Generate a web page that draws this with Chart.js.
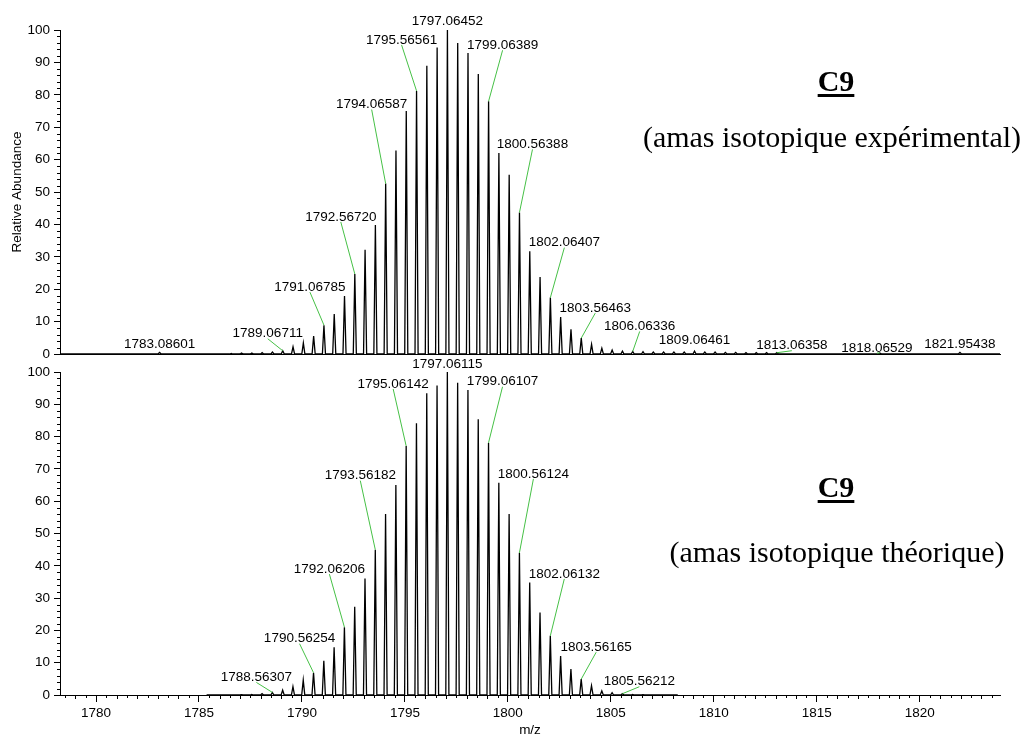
<!DOCTYPE html>
<html lang="fr">
<head>
<meta charset="UTF-8">
<title>C9 - amas isotopique</title>
<script src="https://cdn.jsdelivr.net/npm/chart.js@4/dist/chart.umd.min.js"></script>
<style>
    html, body { margin: 0; padding: 0; background: #ffffff; }
    #quadro { position: relative; width: 1023px; height: 738px; overflow: hidden; }
    #quadro canvas { position: absolute; left: 0; top: 0; }
    .rotulo {
        position: absolute;
        transform: translate(-50%, -50%);
        font-family: "Liberation Serif", "Times New Roman", serif;
        font-size: 30px;
        line-height: 1;
        white-space: nowrap;
        color: #000;
    }
    .composto { font-weight: bold; text-decoration: underline; text-decoration-thickness: 3px; text-underline-offset: 3px; }
</style>
</head>
<body>
<div id="quadro">
    <canvas id="graficoExperimental" width="1023" height="738"></canvas>
    <canvas id="graficoTeorico" width="1023" height="738"></canvas>
    <div class="rotulo composto" style="left:836px; top:81px;">C9</div>
    <div class="rotulo" style="left:832px; top:137px;">(amas isotopique expérimental)</div>
    <div class="rotulo composto" style="left:836px; top:487px;">C9</div>
    <div class="rotulo" style="left:837px; top:552px;">(amas isotopique théorique)</div>
</div>
<script>
/* Limites do eixo m/z (comum aos dois espectros) */
const mzMin = 1778.25;
const mzMax = 1823.9;

/* Espectro experimental: posição m/z dos picos e abundância relativa (%) */
const mzExperimental = [
    1783.08601, 1786.566, 1787.066, 1787.567, 1788.067, 1788.567, 1789.06711, 1789.567,
    1790.068, 1790.568, 1791.06785, 1791.568, 1792.067, 1792.56720, 1793.066, 1793.566,
    1794.06587, 1794.566, 1795.066, 1795.56561, 1796.065, 1796.565, 1797.06452, 1797.564,
    1798.064, 1798.564, 1799.06389, 1799.564, 1800.064, 1800.56388, 1801.064, 1801.564,
    1802.06407, 1802.564, 1803.065, 1803.56463, 1804.065, 1804.564, 1805.064, 1805.564,
    1806.06336, 1806.563, 1807.063, 1807.563, 1808.063, 1808.564, 1809.06461, 1809.565,
    1810.064, 1810.564, 1811.064, 1811.564, 1812.064, 1812.564, 1813.06358, 1818.06529,
    1821.95438
];
const abundanciaExperimental = [
    0.5, 0.2, 0.3, 0.3, 0.4, 0.6, 1.0, 2.2,
    3.4, 5.5, 8.9, 12.3, 17.9, 24.7, 32.2, 39.8,
    52.6, 62.8, 75.0, 81.2, 89.0, 94.6, 100, 96.0,
    92.9, 86.4, 78.0, 62.0, 55.3, 43.7, 31.7, 23.8,
    17.4, 11.4, 7.6, 4.9, 3.0, 1.8, 1.2, 0.9,
    0.8, 0.7, 0.6, 0.6, 0.6, 0.6, 0.9, 0.6,
    0.6, 0.5, 0.5, 0.4, 0.4, 0.4, 0.4, 0.3,
    0.5
];
// Picos anotados no espectro experimental
const rotulosExperimental = [
    "1783.08601", "1789.06711", "1791.06785", "1792.56720", "1794.06587", "1795.56561",
    "1797.06452", "1799.06389", "1800.56388", "1802.06407", "1803.56463", "1806.06336",
    "1809.06461", "1813.06358", "1818.06529", "1821.95438"
];

/* Espectro teórico */
const mzTeorico = [
    1787.063, 1787.563, 1788.063, 1788.56307, 1789.063, 1789.563, 1790.063, 1790.56254,
    1791.062, 1791.562, 1792.06206, 1792.562, 1793.062, 1793.56182, 1794.061, 1794.561,
    1795.06142, 1795.561, 1796.061, 1796.561, 1797.06115, 1797.561, 1798.061, 1798.561,
    1799.06107, 1799.561, 1800.061, 1800.56124, 1801.061, 1801.561, 1802.06132, 1802.562,
    1803.062, 1803.56165, 1804.062, 1804.562, 1805.062, 1805.56212, 1806.062, 1806.562
];
const abundanciaTeorica = [
    0.1, 0.2, 0.4, 0.8, 1.5, 2.6, 4.6, 6.9,
    10.6, 14.8, 21.0, 27.3, 36.1, 45.0, 56.0, 65.0,
    77.1, 84.1, 93.4, 95.8, 100, 96.7, 94.4, 85.4,
    78.1, 65.7, 56.0, 44.0, 34.8, 25.5, 18.3, 12.1,
    8.0, 4.9, 2.9, 1.3, 0.7, 0.4, 0.2, 0.1
];
// Picos anotados no espectro teórico
const rotulosTeorico = [
    "1788.56307", "1790.56254", "1792.06206", "1793.56182", "1795.06142", "1797.06115",
    "1799.06107", "1800.56124", "1802.06132", "1803.56165", "1805.56212"
];

/* Faixa m/z coberta pela linha de base de cada perfil */
const faixaExperimental = [1778.25, 1823.9];
const faixaTeorica = [1785.37, 1808.25];

/* Deslocamento (px) de cada rótulo em relação ao topo do seu pico */
const deslocExperimental = [
    [0, -8], [-15, -17], [-14, -38], [-14, -57], [-14, -79], [-15, -51],
    [0, -9], [14, -56], [13, -68], [14, -55], [14, -30], [7, -25],
    [0, -11], [15, -7], [-3, -5], [0, -8]
];
const deslocTeorico = [
    [-16, -15], [-14, -34], [-15, -58], [-15, -74], [-13, -62], [0, -8],
    [14, -61], [14, -79], [14, -62], [15, -32], [17, -12]
];

// Meia largura (em m/z) usada para desenhar cada pico do perfil
const meiaLargura = 0.075;
const fonteSans = "'Liberation Sans', Arial, Helvetica, sans-serif";

/* Monta o perfil (linha) a partir da lista de picos */
function montarPerfil(mz, abund, faixa) {
    const pontos = [{ x: faixa[0], y: 0 }];
    mz.forEach((m, i) => {
        pontos.push({ x: m - meiaLargura, y: 0 }, { x: m, y: abund[i] }, { x: m + meiaLargura, y: 0 });
    });
    pontos.push({ x: faixa[1], y: 0 });
    return pontos;
}

/* Plugin: marcas secundárias dos eixos, rótulos dos picos e linhas de ligação */
const pluginAnotacoes = {
    id: "anotacoes",
    afterDatasetsDraw(chart, args, opts) {
        const { ctx, chartArea, scales: { x, y } } = chart;
        ctx.save();
        ctx.strokeStyle = "#000";
        ctx.lineWidth = 1;
        ctx.beginPath();
        // Marcas menores do eixo y (a cada 2 %)
        for (let v = 0; v <= 100; v += 2) {
            if (v % 10 === 0) continue;
            const py = Math.round(y.getPixelForValue(v)) + 0.5;
            ctx.moveTo(chartArea.left - 3, py);
            ctx.lineTo(chartArea.left, py);
        }
        // Marcas menores do eixo x (a cada 0,5), só no painel de baixo
        if (opts.marcasX) {
            for (let v = Math.ceil(mzMin * 2) / 2; v <= mzMax; v += 0.5) {
                if (v % 5 === 0) continue;
                const px = Math.round(x.getPixelForValue(v)) + 0.5;
                const comp = Number.isInteger(v) ? 4 : 3;
                ctx.moveTo(px, chartArea.bottom);
                ctx.lineTo(px, chartArea.bottom + comp);
            }
        }
        ctx.stroke();

        // Rótulos dos picos
        ctx.font = "13.5px " + fonteSans;
        ctx.textAlign = "center";
        ctx.textBaseline = "middle";
        opts.rotulos.forEach((texto, i) => {
            const idx = opts.mz.indexOf(parseFloat(texto));
            const px = x.getPixelForValue(opts.mz[idx]);
            const py = y.getPixelForValue(opts.abund[idx]);
            const [dx, dy] = opts.desloc[i];
            const lx = px + dx;
            const ly = py + dy;
            if (dx !== 0) {
                ctx.strokeStyle = "#46c046";
                ctx.beginPath();
                ctx.moveTo(px, py);
                ctx.lineTo(lx, ly + 5);
                ctx.stroke();
            }
            ctx.fillStyle = "#000";
            ctx.fillText(texto, lx, ly);
        });
        ctx.restore();
    }
};

/* Cria um painel do espectro */
function criarGrafico(idCanvas, perfil, anotacoes, painelDeBaixo) {
    const ctx = document.getElementById(idCanvas).getContext("2d");
    return new Chart(ctx, {
        type: "line",
        data: {
            datasets: [{
                data: perfil,
                borderColor: "#000",
                borderWidth: 1.3,
                pointRadius: 0,
                tension: 0,
                fill: false,
                clip: false,
            }],
        },
        options: {
            responsive: false,
            animation: false,
            layout: {
                padding: painelDeBaixo
                    ? { left: 0, right: 23, top: 372, bottom: 0 }
                    : { left: 0, right: 23, top: 30, bottom: 384 },
            },
            plugins: {
                legend: { display: false },
                tooltip: { enabled: false },
                anotacoes: anotacoes,
            },
            scales: {
                x: {
                    type: "linear",
                    min: mzMin,
                    max: mzMax,
                    ticks: {
                        display: painelDeBaixo,
                        stepSize: 5,
                        includeBounds: false,
                        color: "#000",
                        padding: 3,
                        font: { family: fonteSans, size: 13.5 },
                        callback: (v) => String(v),
                    },
                    grid: {
                        display: painelDeBaixo,
                        drawOnChartArea: false,
                        tickLength: 7,
                        color: "#000",
                    },
                    border: { display: true, color: "#000", width: 1 },
                    title: {
                        display: painelDeBaixo,
                        text: "m/z",
                        color: "#000",
                        padding: { top: 0, bottom: 0 },
                        font: { family: fonteSans, size: 13.5 },
                    },
                    afterFit: (s) => { s.height = painelDeBaixo ? 43 : 0; },
                },
                y: {
                    type: "linear",
                    min: 0,
                    max: 100,
                    ticks: {
                        stepSize: 10,
                        color: "#000",
                        padding: 4,
                        font: { family: fonteSans, size: 13.5 },
                    },
                    grid: {
                        drawOnChartArea: false,
                        tickLength: 6,
                        color: "#000",
                    },
                    border: { display: true, color: "#000", width: 1 },
                    title: {
                        display: !painelDeBaixo,
                        text: "Relative Abundance",
                        color: "#000",
                        padding: { top: 9, bottom: 0 },
                        font: { family: fonteSans, size: 13.5 },
                    },
                    afterFit: (s) => { s.width = 60; },
                },
            },
        },
        plugins: [pluginAnotacoes],
    });
}

criarGrafico(
    "graficoExperimental",
    montarPerfil(mzExperimental, abundanciaExperimental, faixaExperimental),
    { mz: mzExperimental, abund: abundanciaExperimental, rotulos: rotulosExperimental, desloc: deslocExperimental, marcasX: false },
    false
);
criarGrafico(
    "graficoTeorico",
    montarPerfil(mzTeorico, abundanciaTeorica, faixaTeorica),
    { mz: mzTeorico, abund: abundanciaTeorica, rotulos: rotulosTeorico, desloc: deslocTeorico, marcasX: true },
    true
);
</script>
</body>
</html>
